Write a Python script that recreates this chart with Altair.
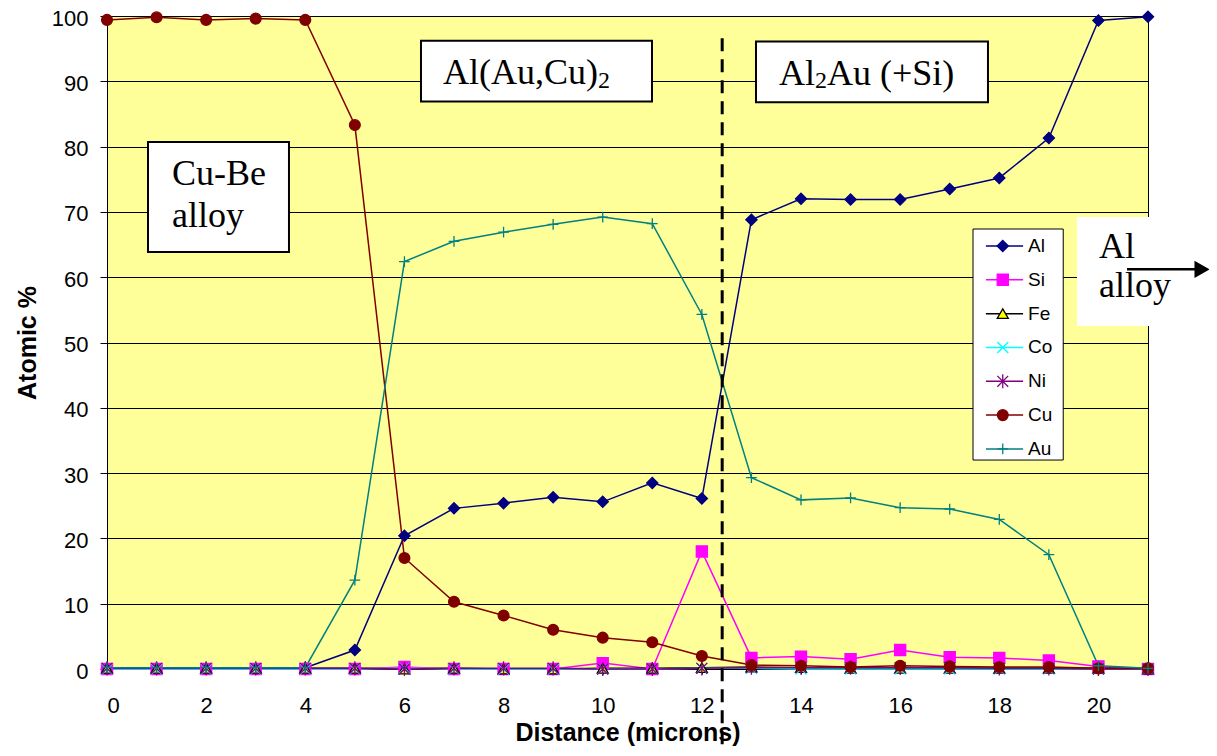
import altair as alt
import pandas as pd

# ---------------- data ----------------
distance = list(range(22))
series_names = ["Al", "Si", "Fe", "Co", "Ni", "Cu", "Au"]

al = [0.1, 0.1, 0.1, 0.1, 0.2, 2.9, 20.4, 24.6, 25.4, 26.3, 25.6, 28.5, 26.1, 68.8, 72.0, 71.9, 71.9, 73.5, 75.2, 81.3, 99.3, 99.9]
si = [0.0, 0.0, 0.0, 0.0, 0.0, 0.0, 0.3, 0.0, 0.0, 0.0, 0.9, 0.0, 18.0, 1.7, 1.9, 1.5, 2.9, 1.8, 1.7, 1.3, 0.4, 0.0]
fe = [0.1, 0.1, 0.1, 0.1, 0.1, 0.1, 0.0, 0.1, 0.0, 0.0, 0.1, 0.1, 0.2, 0.3, 0.2, 0.1, 0.1, 0.1, 0.1, 0.1, 0.1, 0.0]
co = [0.0, 0.0, 0.0, 0.0, 0.0, 0.0, 0.1, 0.0, 0.0, 0.0, 0.0, 0.0, 0.1, 0.1, 0.0, 0.0, 0.0, 0.0, 0.0, 0.0, 0.0, 0.0]
ni = [0.1, 0.1, 0.1, 0.1, 0.1, 0.1, 0.0, 0.1, 0.1, 0.1, 0.0, 0.0, 0.1, 0.2, 0.2, 0.2, 0.2, 0.2, 0.1, 0.1, 0.0, 0.0]
cu = [99.4, 99.8, 99.4, 99.6, 99.4, 83.3, 17.0, 10.3, 8.2, 6.0, 4.8, 4.1, 2.0, 0.6, 0.5, 0.3, 0.5, 0.4, 0.3, 0.3, 0.1, 0.1]
au = [0.2, 0.2, 0.2, 0.2, 0.2, 13.6, 62.4, 65.5, 66.9, 68.1, 69.2, 68.2, 54.3, 29.3, 25.9, 26.2, 24.7, 24.5, 22.9, 17.5, 0.5, 0.1]

x_tick_values = list(range(0, 21, 2))
y_tick_values = list(range(0, 101, 10))
boundary_x = 12.41

# ---------------- styles ----------------
stroke_colors = ["#000080", "#FF00FF", "#000000", "#00FFFF", "#800080", "#800000", "#008080"]
fill_colors = ["#000080", "#FF00FF", "#FFFF00", "transparent", "transparent", "#800000", "transparent"]
shapes = ["diamond", "square", "triangle-up",
          "M-1,-1L1,1M-1,1L1,-1",
          "M-1,-1L1,1M-1,1L1,-1M0,-1.3L0,1.3",
          "circle",
          "M-1,0L1,0M0,-1L0,1"]
marker_sizes = [125, 115, 95, 80, 80, 125, 90]

SANS = "Liberation Sans"
SERIF = "Liberation Serif"

values = {"Al": al, "Si": si, "Fe": fe, "Co": co, "Ni": ni, "Cu": cu, "Au": au}
rows = []
for i, name in enumerate(series_names):
    for d, v in zip(distance, values[name]):
        rows.append({"series": name, "order": i, "distance": d, "value": v})
df = pd.DataFrame(rows)

stroke_scale = alt.Scale(domain=series_names, range=stroke_colors)
fill_scale = alt.Scale(domain=series_names, range=fill_colors)
shape_scale = alt.Scale(domain=series_names, range=shapes)
size_scale = alt.Scale(domain=series_names, range=marker_sizes)

x_scale = alt.Scale(domain=[0, 21], nice=False, zero=False)
y_scale = alt.Scale(domain=[0, 100], nice=False)

x_enc = alt.X(
    "distance:Q", scale=x_scale,
    axis=alt.Axis(values=x_tick_values, grid=False, tickSize=5, labelPadding=21,
                  labelFontSize=22, labelFont=SANS, labelColor="#000",
                  tickColor="#000", domainColor="#000",
                  title="Distance (microns)", titleFont=SANS, titleFontSize=25,
                  titleFontWeight="bold", titleColor="#000",
                  titleX=520.5, titleY=71, titleBaseline="alphabetic"))
y_enc = alt.Y(
    "value:Q", scale=y_scale,
    axis=alt.Axis(values=y_tick_values, grid=True, gridColor="#000", gridWidth=1,
                  gridOpacity=1, tickSize=7, labelPadding=12, labelFontSize=22,
                  labelOffset=2, labelFont=SANS, labelColor="#000", tickColor="#000",
                  domainColor="#000",
                  title="Atomic %", titleFont=SANS, titleFontSize=25,
                  titleFontWeight="bold", titleColor="#000",
                  titleX=-80, titleY=326.5, titleAngle=270, titleBaseline="middle"))

lines = alt.Chart(df).mark_line(strokeWidth=1.5).encode(
    x=x_enc, y=y_enc,
    stroke=alt.Stroke("series:N", scale=stroke_scale, legend=None),
    order=alt.Order("distance:Q"),
)

points = alt.Chart(df).mark_point(filled=True, strokeWidth=1.3, opacity=1).encode(
    x="distance:Q", y="value:Q",
    stroke=alt.Stroke("series:N", scale=stroke_scale, legend=None),
    fill=alt.Fill("series:N", scale=fill_scale, legend=None),
    shape=alt.Shape("series:N", scale=shape_scale, legend=None),
    size=alt.Size("series:N", scale=size_scale, legend=None),
)

# dashed phase boundary
boundary = alt.Chart(pd.DataFrame({"x": [boundary_x], "y": [96.6], "y2": [-12.6]})).mark_rule(
    stroke="#000", strokeWidth=3, strokeDash=[13, 8]
).encode(x="x:Q", y="y:Q", y2="y2:Q")

# annotation boxes (data coordinates)
boxes_df = pd.DataFrame({
    "x": [0.827, 6.334, 13.092],
    "x2": [3.671, 10.994, 17.772],
    "y": [80.7, 96.2, 96.1],
    "y2": [63.86, 86.9, 86.8],
})
boxes = alt.Chart(boxes_df).mark_rect(fill="white", stroke="#000", strokeWidth=2).encode(
    x="x:Q", x2="x2:Q", y="y:Q", y2="y2:Q")

white_df = pd.DataFrame({"x": [19.568], "x2": [22.4], "y": [69.2], "y2": [52.53]})
white_box = alt.Chart(white_df).mark_rect(fill="white", strokeWidth=0, clip=False).encode(
    x="x:Q", x2="x2:Q", y="y:Q", y2="y2:Q")

main_text_df = pd.DataFrame({
    "x": [1.311, 1.311, 6.778, 13.556, 14.525, 20.011, 20.011],
    "y": [74.12, 67.69, 89.63, 89.5, 89.5, 62.94, 56.97],
    "t": ["Cu-Be", "alloy", "Al(Au,Cu)", "Al", "Au (+Si)", "Al", "alloy"],
})
main_text = alt.Chart(main_text_df).mark_text(
    font=SERIF, fontSize=36, align="left", baseline="alphabetic", color="#000"
).encode(x="x:Q", y="y:Q", text="t:N")

sub_df = pd.DataFrame({"x": [9.905, 14.282], "y": [89.0, 88.9], "t": ["2", "2"]})
sub_text = alt.Chart(sub_df).mark_text(
    font=SERIF, fontSize=24, align="left", baseline="alphabetic", color="#000"
).encode(x="x:Q", y="y:Q", text="t:N")

arrow_df = pd.DataFrame({"x": [20.577], "x2": [22.0], "y": [61.2]})
arrow_line = alt.Chart(arrow_df).mark_rule(stroke="#000", strokeWidth=2.5).encode(
    x="x:Q", x2="x2:Q", y="y:Q")
arrow_head = alt.Chart(pd.DataFrame({"x": [22.08], "y": [61.2]})).mark_point(
    shape="triangle-right", size=196, filled=True, fill="#000", stroke="#000", opacity=1
).encode(x="x:Q", y="y:Q")

# legend (manual, in data coordinates)
leg_top = 64.78
leg_step = 5.18
legend_df = pd.DataFrame({
    "series": series_names,
    "ly": [leg_top - leg_step * i for i in range(len(series_names))],
})
legend_df["lx"] = 17.73
legend_df["lx2"] = 18.48
legend_df["mx"] = 18.07
legend_df["tx"] = 18.58

legend_box = alt.Chart(pd.DataFrame({"x": [17.47], "x2": [19.29], "y": [67.38], "y2": [32.0]})).mark_rect(
    fill="white", stroke="#000", strokeWidth=1).encode(x="x:Q", x2="x2:Q", y="y:Q", y2="y2:Q")
legend_lines = alt.Chart(legend_df).mark_rule(strokeWidth=1.5).encode(
    x="lx:Q", x2="lx2:Q", y="ly:Q",
    stroke=alt.Stroke("series:N", scale=stroke_scale, legend=None))
legend_points = alt.Chart(legend_df).mark_point(filled=True, strokeWidth=1.3, opacity=1).encode(
    x="mx:Q", y="ly:Q",
    stroke=alt.Stroke("series:N", scale=stroke_scale, legend=None),
    fill=alt.Fill("series:N", scale=fill_scale, legend=None),
    shape=alt.Shape("series:N", scale=shape_scale, legend=None),
    size=alt.Size("series:N", scale=size_scale, legend=None))
legend_text = alt.Chart(legend_df).mark_text(
    font=SANS, fontSize=19, align="left", baseline="middle", color="#000").encode(
    x="tx:Q", y="ly:Q", text="series:N")

chart = alt.layer(
    lines, points, boundary, boxes, white_box, main_text, sub_text,
    arrow_line, arrow_head,
    legend_box, legend_lines, legend_points, legend_text,
).properties(
    width=1041, height=653,
    autosize=alt.AutoSizeParams(type="none"),
    padding={"left": 99, "top": 8, "right": 61, "bottom": 78},
).configure(
    background="white"
).configure_view(
    fill="#FFFF99", stroke="#000", strokeWidth=1
)

chart.save("out.html", embed_options={"renderer": "svg", "actions": False})
